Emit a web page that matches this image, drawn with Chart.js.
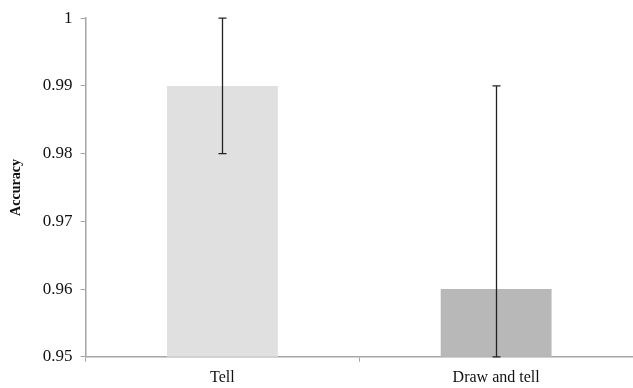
<!DOCTYPE html>
<html>
<head>
<meta charset="utf-8">
<script src="https://cdn.jsdelivr.net/npm/chart.js@4/dist/chart.umd.min.js"></script>
<style>
  html, body { margin: 0; padding: 0; background: #fff; overflow: hidden; }
  #wrap { width: 633px; height: 388px; }
</style>
</head>
<body>
<div id="wrap"><canvas id="chart"></canvas></div>
<script>
const categories = ['Tell', 'Draw and tell'];
const accuracy = [0.99, 0.96];
const errLow = [0.98, 0.95];
const errHigh = [1.0, 0.99];
const barColors = ['#e0e0e0', '#b8b8b8'];

// draws the vertical error bars with small caps
const errorBars = {
  id: 'errorBars',
  afterDatasetsDraw(chart) {
    const ctx = chart.ctx;
    const meta = chart.getDatasetMeta(0);
    const y = chart.scales.y;
    ctx.save();
    ctx.strokeStyle = '#222';
    ctx.lineWidth = 1.3;
    meta.data.forEach((bar, i) => {
      const x = Math.round(bar.x) + 0.5;
      const top = y.getPixelForValue(errHigh[i]);
      const bot = y.getPixelForValue(errLow[i]);
      ctx.beginPath();
      ctx.moveTo(x, top);
      ctx.lineTo(x, bot);
      ctx.moveTo(x - 4, top);
      ctx.lineTo(x + 4, top);
      ctx.moveTo(x - 4, bot);
      ctx.lineTo(x + 4, bot);
      ctx.stroke();
    });
    ctx.restore();
  }
};

new Chart(document.getElementById('chart'), {
  type: 'bar',
  data: {
    labels: categories,
    datasets: [{
      data: accuracy,
      backgroundColor: barColors,
      borderWidth: 0,
      barPercentage: 0.405,
      categoryPercentage: 1.0
    }]
  },
  options: {
    responsive: true,
    maintainAspectRatio: false,
    animation: false,
    layout: { padding: { top: 8, right: 0, bottom: -5, left: 4 } },
    plugins: { legend: { display: false }, tooltip: { enabled: false } },
    scales: {
      x: {
        offset: true,
        grid: {
          display: true, drawOnChartArea: false, offset: true,
          tickLength: 5, color: '#a6a6a6', lineWidth: 1
        },
        border: { color: '#a6a6a6', width: 1.5 },
        ticks: {
          color: '#111', padding: 6,
          font: { family: 'Liberation Serif', size: 16 }
        }
      },
      y: {
        min: 0.95,
        max: 1.0,
        grid: {
          display: true, drawOnChartArea: false,
          tickLength: 5, color: '#a6a6a6', lineWidth: 1
        },
        border: { color: '#a6a6a6', width: 1.5 },
        ticks: {
          stepSize: 0.01, color: '#111', padding: 8,
          font: { family: 'Liberation Serif', size: 17 },
          callback: v => Number(v.toFixed(2)).toString()
        },
        title: {
          display: true, text: 'Accuracy', color: '#111', padding: { bottom: 10 },
          font: { family: 'Liberation Serif', size: 14, weight: 'bold' }
        }
      }
    }
  },
  plugins: [errorBars]
});
</script>
</body>
</html>
